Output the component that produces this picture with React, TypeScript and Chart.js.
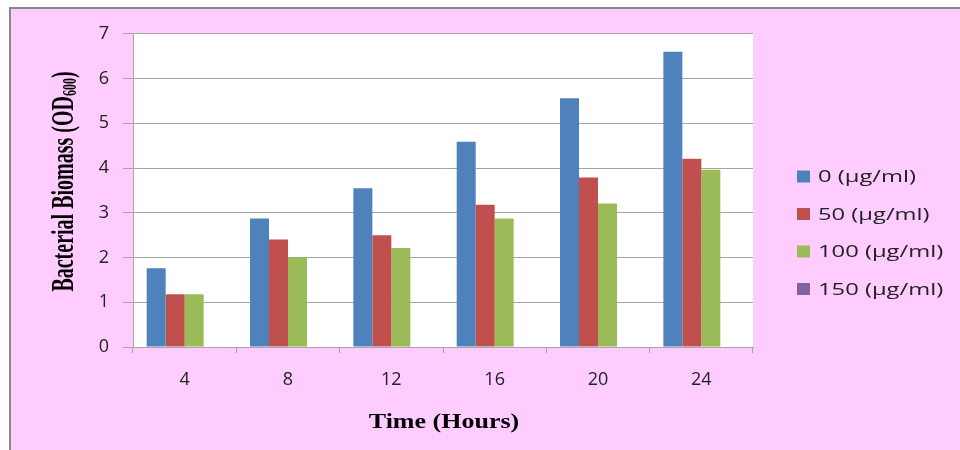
import React, { useEffect, useRef } from "react";
import { Chart, registerables } from "chart.js";

Chart.register(...registerables);

const categories = ["4", "8", "12", "16", "20", "24"];
const seriesNames = ["0 (µg/ml)", "50 (µg/ml)", "100 (µg/ml)", "150 (µg/ml)"];
const series0 = [1.76, 2.87, 3.55, 4.59, 5.56, 6.6];
const series50 = [1.18, 2.4, 2.5, 3.18, 3.79, 4.21];
const series100 = [1.18, 2.0, 2.21, 2.87, 3.21, 3.96];
const series150 = [0, 0, 0, 0, 0, 0];
const seriesColors = ["#4F81BD", "#C0504D", "#9BBB59", "#8064A2"];
const yTitle = "Bacterial Biomass (OD";
const yTitleSub = "600";
const yTitleEnd = ")";
const xTitle = "Time (Hours)";

const PINK = "#FFCCFF";
const GRID = "#A6A6A6";

const titlesLegendPlugin = {
  id: "titlesLegend",
  afterDraw(chart: any) {
    const ctx = chart.ctx as CanvasRenderingContext2D;
    // Legend
    ctx.save();
    ctx.font = "17px 'Open Sans'";
    const refW = ctx.measureText(seriesNames[0]).width;
    const stretch = 98 / refW;
    seriesNames.forEach((name, i) => {
      const cy = 167.5 + i * 37.5;
      ctx.fillStyle = seriesColors[i];
      ctx.fillRect(786, cy - 6, 13, 12);
      ctx.save();
      ctx.translate(807, cy + 1);
      ctx.scale(stretch, 1);
      ctx.fillStyle = "#222";
      ctx.textAlign = "left";
      ctx.textBaseline = "middle";
      ctx.fillText(name, 0, 0);
      ctx.restore();
    });
    ctx.restore();

    // X title
    ctx.save();
    ctx.font = "bold 20px 'Liberation Serif'";
    ctx.fillStyle = "#000";
    ctx.textBaseline = "alphabetic";
    ctx.textAlign = "center";
    ctx.translate(433, 419);
    ctx.scale(1.3, 1);
    ctx.fillText(xTitle, 0, 0);
    ctx.restore();

    // Y title (rotated, with subscript)
    ctx.save();
    ctx.fillStyle = "#000";
    ctx.textBaseline = "alphabetic";
    ctx.textAlign = "left";
    const mainFont = "bold 20px 'Liberation Serif'";
    const subFont = "bold 12px 'Liberation Serif'";
    ctx.font = mainFont;
    const w1 = ctx.measureText(yTitle).width;
    const w3 = ctx.measureText(yTitleEnd).width;
    ctx.font = subFont;
    const w2 = ctx.measureText(yTitleSub).width;
    const total = w1 + w2 + w3;
    ctx.translate(62, 172.5);
    ctx.scale(1.55, 1);
    ctx.rotate(-Math.PI / 2);
    let x = -total / 2;
    ctx.font = mainFont;
    ctx.fillText(yTitle, x, 0);
    x += w1;
    ctx.font = subFont;
    ctx.fillText(yTitleSub, x, 2);
    x += w2;
    ctx.font = mainFont;
    ctx.fillText(yTitleEnd, x, 0);
    ctx.restore();
  },
};

export default function App() {
  const canvasRef = useRef<HTMLCanvasElement | null>(null);

  useEffect(() => {
    if (!canvasRef.current) return;
    const data = [series0, series50, series100, series150];
    const chart = new Chart(canvasRef.current, {
      type: "bar",
      data: {
        labels: categories,
        datasets: seriesNames.map((name, i) => ({
          label: name,
          data: data[i],
          backgroundColor: seriesColors[i],
          borderWidth: 0,
          barPercentage: 1,
          categoryPercentage: 0.735,
        })),
      },
      options: {
        animation: false,
        responsive: true,
        maintainAspectRatio: false,
        layout: { padding: { top: 21, right: 207, left: 0, bottom: 0 } },
        plugins: {
          legend: { display: false },
          tooltip: { enabled: false },
          title: { display: false },
        },
        scales: {
          x: {
            offset: true,
            afterFit: (scale: any) => {
              scale.height = 103;
            },
            grid: {
              offset: true,
              drawOnChartArea: false,
              drawTicks: true,
              tickLength: 6,
              color: GRID,
              lineWidth: 1,
            },
            border: { display: true, color: GRID, width: 1 },
            ticks: {
              color: "#222",
              font: { family: "'Open Sans'", size: 18 },
              padding: 16,
              maxRotation: 0,
            },
          },
          y: {
            min: 0,
            max: 7,
            afterFit: (scale: any) => {
              scale.width = 122;
            },
            grid: {
              color: GRID,
              lineWidth: 1,
              drawTicks: true,
              tickLength: 10,
            },
            border: { display: true, color: GRID, width: 1 },
            ticks: {
              stepSize: 1,
              color: "#222",
              font: { family: "'Open Sans'", size: 18 },
              padding: 14,
            },
          },
        },
      },
      plugins: [
        {
          id: "plotBg",
          beforeDraw(c: any) {
            const a = c.chartArea;
            c.ctx.save();
            c.ctx.fillStyle = "#FFFFFF";
            c.ctx.fillRect(a.left, a.top, a.right - a.left, a.bottom - a.top);
            c.ctx.restore();
          },
        },
        titlesLegendPlugin,
      ],
    });
    return () => chart.destroy();
  }, []);

  return (
    <div
      style={{
        position: "fixed",
        left: 9,
        top: 7,
        right: 0,
        bottom: 0,
        borderLeft: "2px solid #888",
        borderTop: "2px solid #888",
        background: PINK,
        overflow: "hidden",
      }}
    >
      <div style={{ position: "relative", width: 949, height: 441 }}>
        <canvas ref={canvasRef} />
      </div>
    </div>
  );
}
